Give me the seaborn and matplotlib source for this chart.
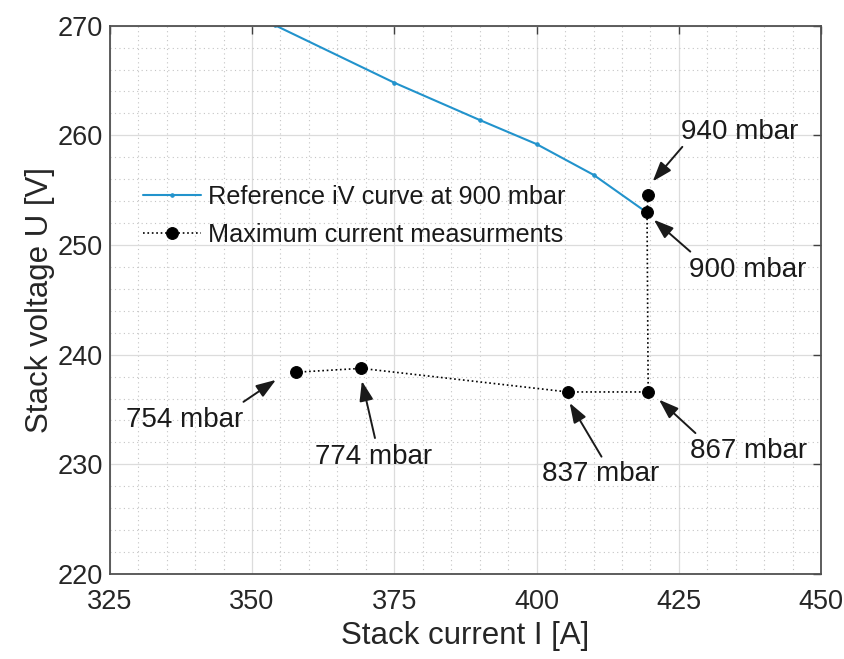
import matplotlib
matplotlib.use("Agg")
import matplotlib.pyplot as plt
from matplotlib.ticker import MultipleLocator
import seaborn as sns
import pandas as pd

# Reference iV curve at 900 mbar
ref_current = [354.0, 375.0, 390.0, 400.0, 410.0, 419.0]
ref_voltage = [270.05, 264.8, 261.4, 259.2, 256.4, 253.1]

# Maximum current measurements (ordered by pressure)
meas_pressure = ["754 mbar", "774 mbar", "837 mbar", "867 mbar", "900 mbar", "940 mbar"]
meas_current = [357.7, 369.2, 405.5, 419.6, 419.4, 419.6]
meas_voltage = [238.4, 238.75, 236.6, 236.6, 253.0, 254.6]

# Annotation label positions and arrow tail/head (data units)
label_xy = [(338.2, 234.0), (371.4, 230.7), (411.2, 229.1), (437.3, 231.2), (437.0, 247.7), (435.7, 260.3)]
arrow_tail = [(348.5, 235.7), (371.6, 232.4), (411.4, 230.7), (427.9, 232.85), (427.0, 249.4), (425.6, 258.95)]
arrow_head = [(354.2, 237.7), (369.3, 237.6), (405.8, 235.6), (421.5, 235.9), (420.6, 252.3), (420.4, 255.8)]

sns.set_style("white")
plt.rcParams["font.family"] = ["Liberation Sans", "DejaVu Sans"]

fig = plt.figure(figsize=(8.44, 6.59), dpi=100)
ax = fig.add_axes([0.130, 0.129, 0.843, 0.832])

ref_df = pd.DataFrame({"I": ref_current, "U": ref_voltage})
meas_df = pd.DataFrame({"I": meas_current, "U": meas_voltage, "p": meas_pressure})

blue = "#2293cc"
sns.lineplot(data=ref_df, x="I", y="U", ax=ax, sort=False, estimator=None,
             color=blue, linewidth=1.5, marker=".", markersize=5,
             markeredgecolor=blue, label="Reference iV curve at 900 mbar")
sns.lineplot(data=meas_df, x="I", y="U", ax=ax, sort=False, estimator=None,
             color="black", linewidth=1.2, linestyle=":", marker="o",
             markersize=8.5, markeredgecolor="black",
             label="Maximum current measurments")

ax.set_xlim(325, 450)
ax.set_ylim(220, 270)
ax.xaxis.set_major_locator(MultipleLocator(25))
ax.xaxis.set_minor_locator(MultipleLocator(5))
ax.yaxis.set_major_locator(MultipleLocator(10))
ax.yaxis.set_minor_locator(MultipleLocator(2))

ax.grid(which="major", color="#dcdcdc", linewidth=0.9, linestyle="-")
ax.grid(which="minor", color="#c4c4c4", linewidth=0.8, linestyle=(0, (1, 3)))
ax.set_axisbelow(True)

ax.tick_params(which="major", direction="in", top=True, right=True, length=6,
               width=1.0, color="#404040", labelsize=19.5, labelcolor="#262626")
ax.tick_params(axis="x", which="major", pad=11)
ax.tick_params(axis="y", which="major", pad=5)
ax.tick_params(which="minor", length=0)
for s in ax.spines.values():
    s.set_color("#505050")
    s.set_linewidth(1.3)

ax.set_xlabel("Stack current I [A]", fontsize=22.5, color="#262626", labelpad=4)
ax.set_ylabel("Stack voltage U [V]", fontsize=22.5, color="#262626", labelpad=2)

leg = ax.legend(loc="upper left", bbox_to_anchor=(0.032, 0.728), frameon=False,
                fontsize=18.2, handlelength=2.3, handletextpad=0.3,
                labelspacing=0.55, borderaxespad=0)
for t in leg.get_texts():
    t.set_color("#1a1a1a")

for name, (tx, ty), tail, head in zip(meas_pressure, label_xy, arrow_tail, arrow_head):
    ax.text(tx, ty, name, ha="center", va="center", fontsize=20, color="#1a1a1a")
    ax.annotate("", xy=head, xytext=tail,
                arrowprops=dict(arrowstyle="-|>,head_length=1.2,head_width=0.42",
                                color="#1a1a1a", linewidth=1.4,
                                shrinkA=0, shrinkB=0, mutation_scale=10))

fig.savefig("out.png", dpi=100)
